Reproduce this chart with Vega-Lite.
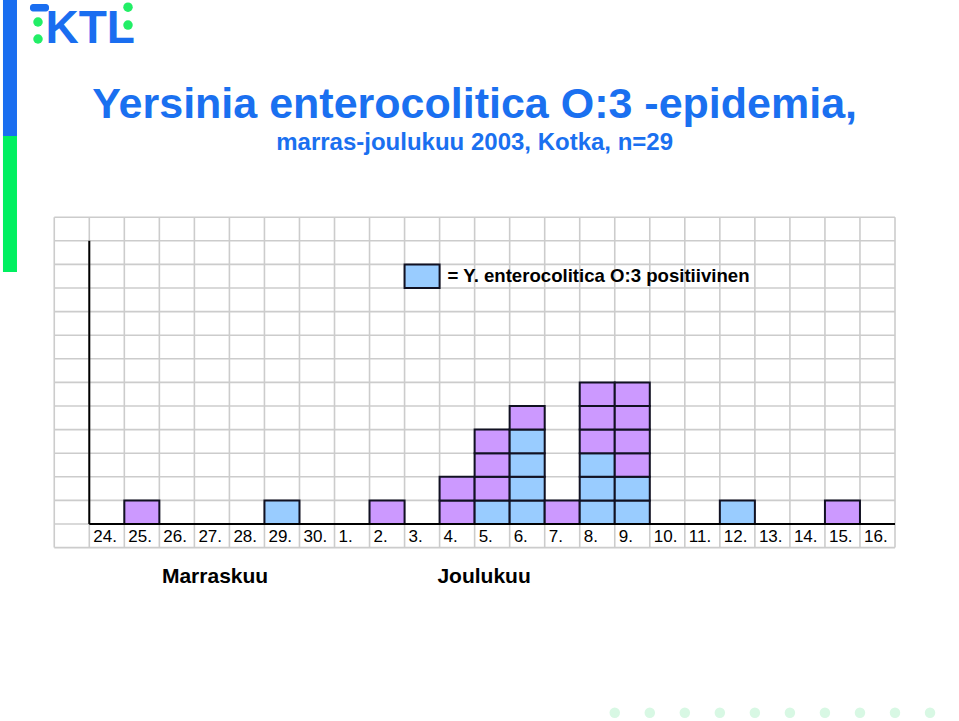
{
  "$schema": "https://vega.github.io/schema/vega-lite/v6.json",
  "autosize": {"type": "fit", "contains": "padding"},
  "width": 959,
  "height": 721,
  "padding": 0,
  "background": "white",
  "config": {"view": {"stroke": null}, "font": "Liberation Sans"},
  "datasets": {
    "tapaukset": [
      {"pvm": "25.11.", "d": 1, "tila": "muu"},
      {"pvm": "29.11.", "d": 5, "tila": "positiivinen"},
      {"pvm": "2.12.", "d": 8, "tila": "muu"},
      {"pvm": "4.12.", "d": 10, "tila": "muu"},
      {"pvm": "4.12.", "d": 10, "tila": "muu"},
      {"pvm": "5.12.", "d": 11, "tila": "positiivinen"},
      {"pvm": "5.12.", "d": 11, "tila": "muu"},
      {"pvm": "5.12.", "d": 11, "tila": "muu"},
      {"pvm": "5.12.", "d": 11, "tila": "muu"},
      {"pvm": "6.12.", "d": 12, "tila": "positiivinen"},
      {"pvm": "6.12.", "d": 12, "tila": "positiivinen"},
      {"pvm": "6.12.", "d": 12, "tila": "positiivinen"},
      {"pvm": "6.12.", "d": 12, "tila": "positiivinen"},
      {"pvm": "6.12.", "d": 12, "tila": "muu"},
      {"pvm": "7.12.", "d": 13, "tila": "muu"},
      {"pvm": "8.12.", "d": 14, "tila": "positiivinen"},
      {"pvm": "8.12.", "d": 14, "tila": "positiivinen"},
      {"pvm": "8.12.", "d": 14, "tila": "positiivinen"},
      {"pvm": "8.12.", "d": 14, "tila": "muu"},
      {"pvm": "8.12.", "d": 14, "tila": "muu"},
      {"pvm": "8.12.", "d": 14, "tila": "muu"},
      {"pvm": "9.12.", "d": 15, "tila": "positiivinen"},
      {"pvm": "9.12.", "d": 15, "tila": "positiivinen"},
      {"pvm": "9.12.", "d": 15, "tila": "muu"},
      {"pvm": "9.12.", "d": 15, "tila": "muu"},
      {"pvm": "9.12.", "d": 15, "tila": "muu"},
      {"pvm": "9.12.", "d": 15, "tila": "muu"},
      {"pvm": "12.12.", "d": 18, "tila": "positiivinen"},
      {"pvm": "15.12.", "d": 21, "tila": "muu"}
    ],
    "paivat": [
      {"d": 0, "label": "24."}, {"d": 1, "label": "25."}, {"d": 2, "label": "26."},
      {"d": 3, "label": "27."}, {"d": 4, "label": "28."}, {"d": 5, "label": "29."},
      {"d": 6, "label": "30."}, {"d": 7, "label": "1."}, {"d": 8, "label": "2."},
      {"d": 9, "label": "3."}, {"d": 10, "label": "4."}, {"d": 11, "label": "5."},
      {"d": 12, "label": "6."}, {"d": 13, "label": "7."}, {"d": 14, "label": "8."},
      {"d": 15, "label": "9."}, {"d": 16, "label": "10."}, {"d": 17, "label": "11."},
      {"d": 18, "label": "12."}, {"d": 19, "label": "13."}, {"d": 20, "label": "14."},
      {"d": 21, "label": "15."}, {"d": 22, "label": "16."}
    ],
    "pystyviivat": [
      {"v": -1}, {"v": 0}, {"v": 1}, {"v": 2}, {"v": 3}, {"v": 4}, {"v": 5}, {"v": 6},
      {"v": 7}, {"v": 8}, {"v": 9}, {"v": 10}, {"v": 11}, {"v": 12}, {"v": 13}, {"v": 14},
      {"v": 15}, {"v": 16}, {"v": 17}, {"v": 18}, {"v": 19}, {"v": 20}, {"v": 21}, {"v": 22}, {"v": 23}
    ],
    "vaakaviivat": [
      {"h": -1}, {"h": 0}, {"h": 1}, {"h": 2}, {"h": 3}, {"h": 4}, {"h": 5}, {"h": 6},
      {"h": 7}, {"h": 8}, {"h": 9}, {"h": 10}, {"h": 11}, {"h": 12}, {"h": 13}
    ],
    "pisteet": [
      {"d": 15}, {"d": 16}, {"d": 17}, {"d": 18}, {"d": 19},
      {"d": 20}, {"d": 21}, {"d": 22}, {"d": 23}, {"d": 24}
    ]
  },
  "layer": [
    {
      "data": {"name": "pystyviivat"},
      "mark": {"type": "rule", "color": "#cccccc", "strokeWidth": 1.6},
      "encoding": {
        "x": {"field": "v", "type": "quantitative", "axis": null, "scale": {"domain": [-2.549, 24.827], "nice": false, "zero": false}},
        "y": {"datum": -1, "type": "quantitative", "axis": null, "scale": {"domain": [-8.347, 22.203], "nice": false, "zero": false}},
        "y2": {"datum": 13}
      }
    },
    {
      "data": {"name": "vaakaviivat"},
      "mark": {"type": "rule", "color": "#cccccc", "strokeWidth": 1.6},
      "encoding": {
        "y": {"field": "h", "type": "quantitative"},
        "x": {"datum": -1, "type": "quantitative"},
        "x2": {"datum": 23}
      }
    },
    {
      "data": {"name": "tapaukset"},
      "transform": [
        {"window": [{"op": "row_number", "as": "taso"}], "groupby": ["d"], "sort": [{"field": "tila", "order": "descending"}]},
        {"calculate": "datum.taso - 1", "as": "y0"},
        {"calculate": "datum.d + 1", "as": "d1"}
      ],
      "mark": {"type": "rect", "stroke": "#111122", "strokeWidth": 2},
      "encoding": {
        "x": {"field": "d", "type": "quantitative"},
        "x2": {"field": "d1"},
        "y": {"field": "y0", "type": "quantitative"},
        "y2": {"field": "taso"},
        "fill": {"field": "tila", "type": "nominal", "legend": null, "scale": {"domain": ["positiivinen", "muu"], "range": ["#99ccff", "#cc99ff"]}}
      }
    },
    {
      "data": {"values": [{}]},
      "mark": {"type": "rule", "color": "#000000", "strokeWidth": 2},
      "encoding": {"x": {"datum": 0, "type": "quantitative"}, "y": {"datum": 0, "type": "quantitative"}, "y2": {"datum": 12}}
    },
    {
      "data": {"values": [{}]},
      "mark": {"type": "rule", "color": "#000000", "strokeWidth": 2},
      "encoding": {"y": {"datum": 0, "type": "quantitative"}, "x": {"datum": 0, "type": "quantitative"}, "x2": {"datum": 23}}
    },
    {
      "data": {"name": "paivat"},
      "mark": {"type": "text", "align": "left", "baseline": "alphabetic", "dx": 4, "fontSize": 17, "color": "#000000"},
      "encoding": {
        "x": {"field": "d", "type": "quantitative"},
        "y": {"datum": -0.76, "type": "quantitative"},
        "text": {"field": "label"}
      }
    },
    {
      "data": {"values": [{}]},
      "mark": {"type": "text", "align": "center", "baseline": "alphabetic", "fontSize": 21, "fontWeight": "bold", "color": "#000000"},
      "encoding": {"x": {"datum": 3.59, "type": "quantitative"}, "y": {"datum": -2.5, "type": "quantitative"}, "text": {"value": "Marraskuu"}}
    },
    {
      "data": {"values": [{}]},
      "mark": {"type": "text", "align": "center", "baseline": "alphabetic", "fontSize": 21, "fontWeight": "bold", "color": "#000000"},
      "encoding": {"x": {"datum": 11.27, "type": "quantitative"}, "y": {"datum": -2.5, "type": "quantitative"}, "text": {"value": "Joulukuu"}}
    },
    {
      "data": {"values": [{}]},
      "mark": {"type": "rect", "fill": "#99ccff", "stroke": "#111122", "strokeWidth": 2},
      "encoding": {"x": {"datum": 9, "type": "quantitative"}, "x2": {"datum": 10}, "y": {"datum": 10, "type": "quantitative"}, "y2": {"datum": 11}}
    },
    {
      "data": {"values": [{}]},
      "mark": {"type": "text", "align": "left", "baseline": "middle", "dx": 8, "fontSize": 18.6, "fontWeight": "bold", "color": "#000000"},
      "encoding": {"x": {"datum": 10, "type": "quantitative"}, "y": {"datum": 10.5, "type": "quantitative"}, "text": {"value": "= Y. enterocolitica O:3 positiivinen"}}
    },
    {
      "data": {"values": [{}]},
      "mark": {"type": "text", "align": "center", "baseline": "alphabetic", "fontSize": 43, "fontWeight": "bold", "color": "#1a70f0"},
      "encoding": {"x": {"datum": 11, "type": "quantitative"}, "y": {"datum": 17.2, "type": "quantitative"}, "text": {"value": "Yersinia enterocolitica O:3 -epidemia,"}}
    },
    {
      "data": {"values": [{}]},
      "mark": {"type": "text", "align": "center", "baseline": "alphabetic", "fontSize": 24, "fontWeight": "bold", "color": "#1a70f0"},
      "encoding": {"x": {"datum": 11, "type": "quantitative"}, "y": {"datum": 15.85, "type": "quantitative"}, "text": {"value": "marras-joulukuu 2003, Kotka, n=29"}}
    },
    {
      "data": {"values": [{}]},
      "mark": {"type": "rect", "fill": "#1a6ef0"},
      "encoding": {"x": {"datum": -2.464, "type": "quantitative"}, "x2": {"datum": -2.064}, "y": {"datum": 22.203, "type": "quantitative"}, "y2": {"datum": 16.44}}
    },
    {
      "data": {"values": [{}]},
      "mark": {"type": "rect", "fill": "#00f060"},
      "encoding": {"x": {"datum": -2.464, "type": "quantitative"}, "x2": {"datum": -2.064}, "y": {"datum": 16.44, "type": "quantitative"}, "y2": {"datum": 10.68}}
    },
    {
      "data": {"values": [{}]},
      "mark": {"type": "text", "align": "left", "baseline": "alphabetic", "fontSize": 46, "fontWeight": "bold", "color": "#1a6ef0"},
      "encoding": {"x": {"datum": -1.25, "type": "quantitative"}, "y": {"datum": 20.38, "type": "quantitative"}, "text": {"value": "KTL"}}
    },
    {
      "data": {"values": [{}]},
      "mark": {"type": "rect", "fill": "#1a6ef0", "cornerRadius": 3},
      "encoding": {"x": {"datum": -1.693, "type": "quantitative"}, "x2": {"datum": -1.15}, "y": {"datum": 22.03, "type": "quantitative"}, "y2": {"datum": 21.72}}
    },
    {
      "data": {"values": [{}]},
      "mark": {"type": "circle", "size": 90, "color": "#22ee66", "opacity": 1},
      "encoding": {"x": {"datum": -1.464, "type": "quantitative"}, "y": {"datum": 21.27, "type": "quantitative"}}
    },
    {
      "data": {"values": [{}]},
      "mark": {"type": "circle", "size": 90, "color": "#22ee66", "opacity": 1},
      "encoding": {"x": {"datum": -1.464, "type": "quantitative"}, "y": {"datum": 20.55, "type": "quantitative"}}
    },
    {
      "data": {"values": [{}]},
      "mark": {"type": "circle", "size": 90, "color": "#22ee66", "opacity": 1},
      "encoding": {"x": {"datum": 1.105, "type": "quantitative"}, "y": {"datum": 21.9, "type": "quantitative"}}
    },
    {
      "data": {"values": [{}]},
      "mark": {"type": "circle", "size": 90, "color": "#22ee66", "opacity": 1},
      "encoding": {"x": {"datum": 1.105, "type": "quantitative"}, "y": {"datum": 21.14, "type": "quantitative"}}
    },
    {
      "data": {"name": "pisteet"},
      "mark": {"type": "circle", "size": 110, "color": "#d8f8e4", "opacity": 1, "dx": 24},
      "encoding": {"x": {"field": "d", "type": "quantitative"}, "y": {"datum": -8.0, "type": "quantitative"}}
    }
  ]
}
